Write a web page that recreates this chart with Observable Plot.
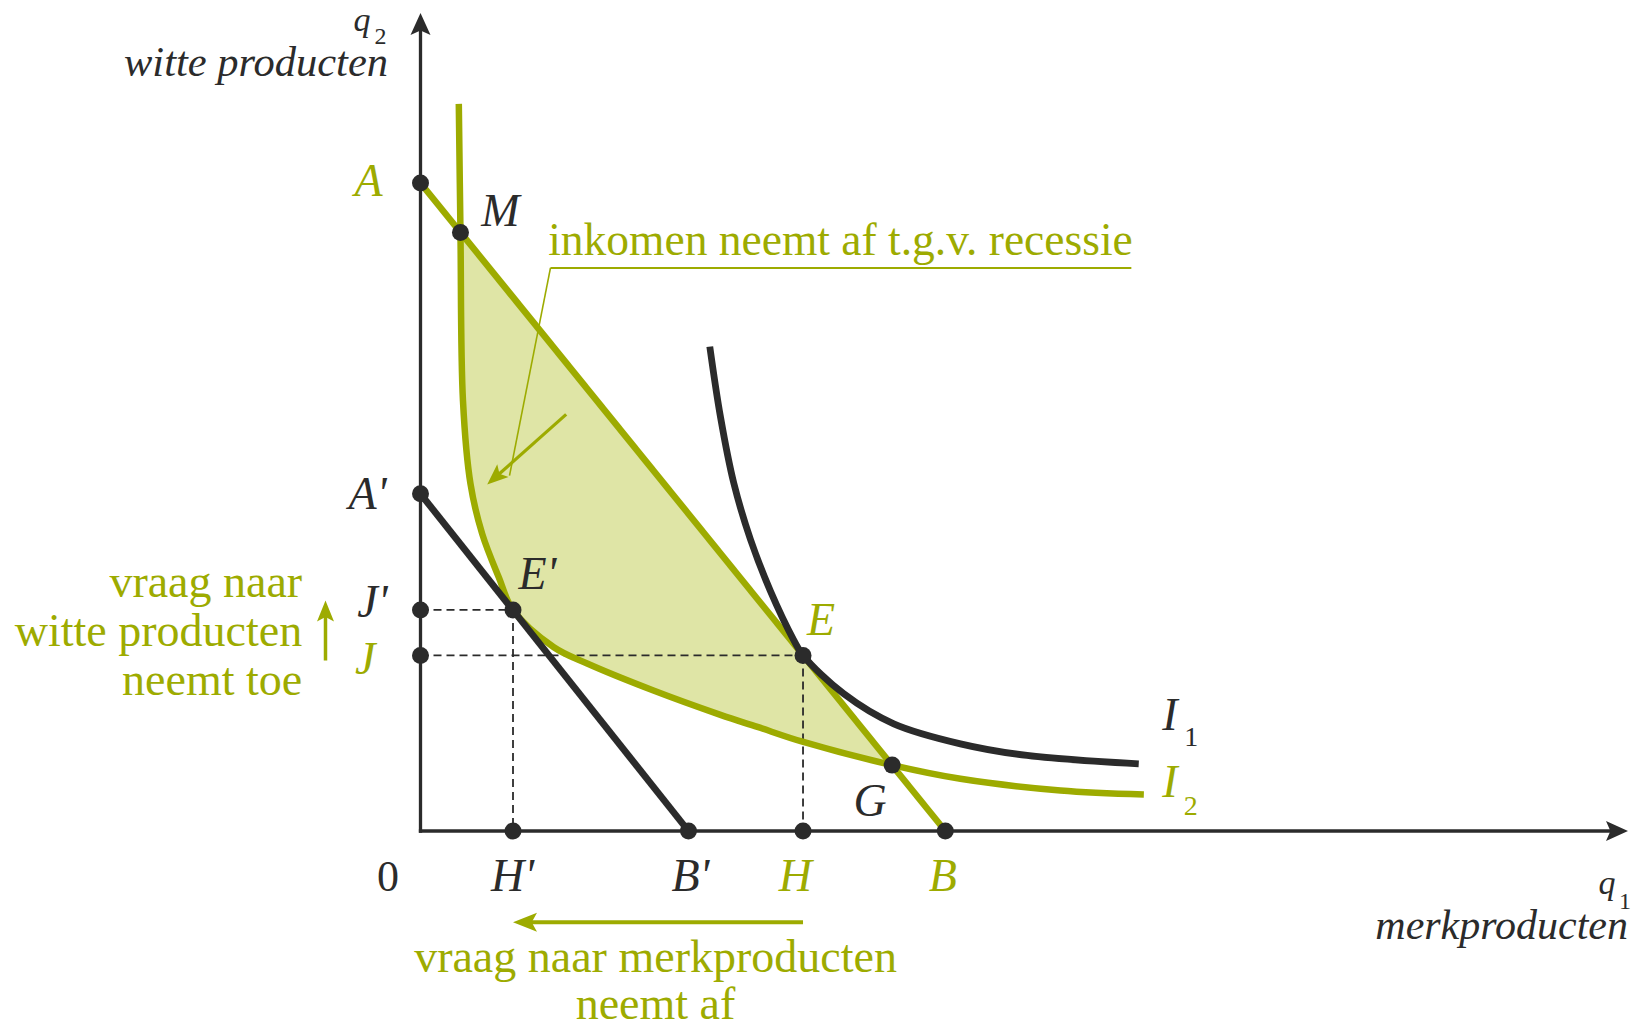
<!DOCTYPE html>
<html>
<head>
<meta charset="utf-8">
<script src="https://cdn.jsdelivr.net/npm/d3@7"></script>
<script src="https://cdn.jsdelivr.net/npm/@observablehq/plot@0.6"></script>
<style>
html, body { margin: 0; padding: 0; background: #fff; }
#chart svg { display: block; }
</style>
</head>
<body>
<div id="chart"></div>
<script>
// ---------- values (q1 = merkproducten, q2 = witte producten) ----------
const axisMax = { q1: 23.17, q2: 15.21 };

const points = [
  { id: "A",  q1: 0,     q2: 12.05 },
  { id: "M",  q1: 0.767, q2: 11.13 },
  { id: "A'", q1: 0,     q2: 6.27 },
  { id: "E'", q1: 1.775, q2: 4.11 },
  { id: "J'", q1: 0,     q2: 4.11 },
  { id: "J",  q1: 0,     q2: 3.265 },
  { id: "E",  q1: 7.34,  q2: 3.265 },
  { id: "G",  q1: 9.05,  q2: 1.225 },
  { id: "H'", q1: 1.775, q2: 0 },
  { id: "B'", q1: 5.142, q2: 0 },
  { id: "H",  q1: 7.34,  q2: 0 },
  { id: "B",  q1: 10.07, q2: 0 }
];

// indifference curve I1 (black)
const curveI1 = [
  { q1: 5.551, q2: 9.007 }, { q1: 5.756, q2: 7.70 }, { q1: 6.011, q2: 6.47 },
  { q1: 6.332, q2: 5.42 },  { q1: 6.715, q2: 4.46 }, { q1: 7.162, q2: 3.55 },
  { q1: 7.34,  q2: 3.265 }, { q1: 8.122, q2: 2.551 }, { q1: 9.081, q2: 1.993 },
  { q1: 10.361, q2: 1.621 }, { q1: 11.64, q2: 1.404 }, { q1: 13.782, q2: 1.249 }
];

// indifference curve I2 (green)
const curveI2 = [
  { q1: 0.735, q2: 13.52 }, { q1: 0.767, q2: 11.13 }, { q1: 0.815, q2: 8.0 },
  { q1: 0.959, q2: 6.455 }, { q1: 1.184, q2: 5.525 }, { q1: 1.502, q2: 4.718 },
  { q1: 1.775, q2: 4.11 },  { q1: 2.558, q2: 3.417 }, { q1: 3.198, q2: 3.114 },
  { q1: 4.47,  q2: 2.612 }, { q1: 5.756, q2: 2.16 },  { q1: 6.466, q2: 1.935 },
  { q1: 7.329, q2: 1.66 },  { q1: 9.05,  q2: 1.225 }, { q1: 10.36, q2: 0.97 },
  { q1: 12.28, q2: 0.753 }, { q1: 13.88, q2: 0.679 }
];

// annotation anchors (data units)
const calloutLine = { x1: 2.494, y1: 10.47, x2: 13.64, y2: 10.47 };
const leaderLine  = { x1: 2.494, y1: 10.47, x2: 1.708, y2: 6.609 };
const shiftArrow  = { x1: 2.795, y1: 7.746, x2: 1.28,  y2: 6.442 };
const upArrow     = { x1: -1.823, y1: 3.17, x2: -1.823, y2: 4.285 };
const leftArrowY  = -1.695;

const texts = {
  recession: "inkomen neemt af t.g.v. recessie",
  whiteUp: "vraag naar\nwitte producten\nneemt toe",
  brandDown: "vraag naar merkproducten\nneemt af",
  yTitle: "witte producten",
  xTitle: "merkproducten"
};

// ---------- derived ----------
const P = Object.fromEntries(points.map(d => [d.id, d]));
const budgetAB = [P["A"], P["B"]];
const budgetA2B2 = [P["A'"], P["B'"]];
const i2Start = curveI2.findIndex(d => d.q1 === P["M"].q1);
const i2End = curveI2.findIndex(d => d.q1 === P["G"].q1);
const shaded = curveI2.slice(i2Start, i2End + 1);
const dashes = [
  { x1: 0, y1: P["J'"].q2, x2: P["E'"].q1, y2: P["E'"].q2 },
  { x1: P["E'"].q1, y1: P["E'"].q2, x2: P["H'"].q1, y2: 0 },
  { x1: 0, y1: P["J"].q2, x2: P["E"].q1, y2: P["E"].q2 },
  { x1: P["E"].q1, y1: P["E"].q2, x2: P["H"].q1, y2: 0 }
];
const leftArrow = { x1: P["H"].q1, y1: leftArrowY, x2: P["H'"].q1, y2: leftArrowY };
const yAxis = { x1: 0, y1: 0, x2: 0, y2: axisMax.q2 };
const xAxis = { x1: 0, y1: 0, x2: axisMax.q1, y2: 0 };

// ---------- styling ----------
const GREEN = "#9dab00";
const FILL = "#dfe5a6";
const INK = "#2b2b2b";
const FONT = "'Liberation Serif', 'DejaVu Serif', serif";

const xDomain = [0, axisMax.q1], yDomain = [0, axisMax.q2];
const xRange = [420, 1627.5], yRange = [830.5, 12.5];
const kx = (xRange[1] - xRange[0]) / (xDomain[1] - xDomain[0]);
const ky = (yRange[0] - yRange[1]) / (yDomain[1] - yDomain[0]);
const headAngle = a => Math.atan2(-(a.y2 - a.y1) * ky, (a.x2 - a.x1) * kx) * 180 / Math.PI + 90;

function stealth(len, half, notch) {
  return { draw(ctx) { ctx.moveTo(0, 0); ctx.lineTo(half, len); ctx.lineTo(0, len * notch); ctx.lineTo(-half, len); ctx.closePath(); } };
}
const axisHead = stealth(22, 10, 0.8);
const greenHead = stealth(24, 9.5, 0.78);
const smallHead = stealth(21, 8.5, 0.78);

function head(a, sym, color) {
  return Plot.dot([a], { x: "x2", y: "y2", r: 5, symbol: sym, fill: color, stroke: "none", rotate: headAngle(a) });
}
function shaft(a, color, w, inset) {
  return Plot.arrow([a], { x1: "x1", y1: "y1", x2: "x2", y2: "y2", stroke: color, strokeWidth: w, headLength: 0, insetEnd: inset, strokeLinecap: "butt" });
}
const lab = (id, text, o) => Plot.text([P[id]], Object.assign({ x: "q1", y: "q2", text: () => text, fontFamily: FONT, fontStyle: "italic", fontSize: 46, fill: INK, lineAnchor: "middle", textAnchor: "middle" }, o));

const marks = [
  // shaded region between budget line AB and I2
  Plot.line(shaded, { x: "q1", y: "q2", curve: "catmull-rom", fill: FILL, stroke: "none" }),
  // dashed guides
  Plot.link(dashes, { x1: "x1", y1: "y1", x2: "x2", y2: "y2", stroke: INK, strokeWidth: 1.8, strokeDasharray: "8,5" }),
  // green lines
  Plot.line(budgetAB, { x: "q1", y: "q2", stroke: GREEN, strokeWidth: 6.5, strokeLinecap: "butt" }),
  Plot.line(curveI2, { x: "q1", y: "q2", curve: "catmull-rom", stroke: GREEN, strokeWidth: 6.5, strokeLinecap: "butt" }),
  // black lines
  Plot.line(budgetA2B2, { x: "q1", y: "q2", stroke: INK, strokeWidth: 6.8, strokeLinecap: "butt" }),
  Plot.line(curveI1, { x: "q1", y: "q2", curve: "catmull-rom", stroke: INK, strokeWidth: 6.8, strokeLinecap: "butt" }),
  // axes
  Plot.arrow([yAxis], { x1: "x1", y1: "y1", x2: "x2", y2: "y2", stroke: INK, strokeWidth: 3.3, headLength: 0, insetEnd: 10, strokeLinecap: "square" }),
  Plot.arrow([xAxis], { x1: "x1", y1: "y1", x2: "x2", y2: "y2", stroke: INK, strokeWidth: 3.3, headLength: 0, insetEnd: 10, strokeLinecap: "square" }),
  head(yAxis, axisHead, INK),
  head(xAxis, axisHead, INK),
  // points
  Plot.dot(points, { x: "q1", y: "q2", r: 8.5, fill: INK, stroke: "none" }),
  // callout
  Plot.link([calloutLine], { x1: "x1", y1: "y1", x2: "x2", y2: "y2", stroke: GREEN, strokeWidth: 2 }),
  Plot.link([leaderLine], { x1: "x1", y1: "y1", x2: "x2", y2: "y2", stroke: GREEN, strokeWidth: 1.6 }),
  shaft(shiftArrow, GREEN, 3.2, 14), head(shiftArrow, smallHead, GREEN),
  shaft(upArrow, GREEN, 3.5, 12), head(upArrow, smallHead, GREEN),
  shaft(leftArrow, GREEN, 4, 14), head(leftArrow, greenHead, GREEN),
  Plot.text([texts.recession], { x: calloutLine.x1, y: calloutLine.y1, dx: -2.3, dy: -13.3, textAnchor: "start", lineAnchor: "bottom", fontFamily: FONT, fontSize: 45.5, fill: GREEN }),
  Plot.text([texts.whiteUp], { x: upArrow.x1, y: upArrow.y1, dx: -23.3, dy: 34.3, textAnchor: "end", lineAnchor: "bottom", lineHeight: 1.06, fontFamily: FONT, fontSize: 46, fill: GREEN }),
  Plot.text([texts.brandDown], { x: (leftArrow.x1 + leftArrow.x2) / 2, y: leftArrowY, dx: -2.5, dy: 96.6, textAnchor: "middle", lineAnchor: "bottom", lineHeight: 1.015, fontFamily: FONT, fontSize: 46, fill: GREEN }),
  // point labels
  lab("A", "A", { dx: -38, dy: -2, textAnchor: "end", fill: GREEN }),
  lab("M", "M", { dx: 40, dy: -21 }),
  lab("A'", "A'", { dx: -34, dy: 0, textAnchor: "end" }),
  lab("E'", "E'", { dx: 5.5, dy: -35.6, textAnchor: "start" }),
  lab("J'", "J'", { dx: -33, dy: -8, textAnchor: "end" }),
  lab("J", "J", { dx: -45, dy: 4, textAnchor: "end", fill: GREEN }),
  lab("E", "E", { dx: 4, dy: -35, textAnchor: "start", fill: GREEN }),
  lab("G", "G", { dx: -22, dy: 36 }),
  lab("H'", "H'", { dx: -0.5, dy: 45.5 }),
  lab("B'", "B'", { dx: 2, dy: 45.5 }),
  lab("H", "H", { dx: -7.6, dy: 45.5, fill: GREEN }),
  lab("B", "B", { dx: -2.4, dy: 45.5, fill: GREEN }),
  Plot.text(["0"], { x: 0, y: 0, dx: -32.5, dy: 46, fontFamily: FONT, fontSize: 44, fill: INK, lineAnchor: "middle" }),
  // curve labels
  Plot.text([curveI1[curveI1.length - 1]], { x: "q1", y: "q2", text: () => "I", dx: 23.4, dy: -48.3, textAnchor: "start", lineAnchor: "middle", fontFamily: FONT, fontStyle: "italic", fontSize: 46, fill: INK }),
  Plot.text([curveI1[curveI1.length - 1]], { x: "q1", y: "q2", text: () => "1", dx: 45.5, dy: -26.3, textAnchor: "start", lineAnchor: "middle", fontFamily: FONT, fontSize: 28, fill: INK }),
  Plot.text([curveI2[curveI2.length - 1]], { x: "q1", y: "q2", text: () => "I", dx: 18.3, dy: -12, textAnchor: "start", lineAnchor: "middle", fontFamily: FONT, fontStyle: "italic", fontSize: 46, fill: GREEN }),
  Plot.text([curveI2[curveI2.length - 1]], { x: "q1", y: "q2", text: () => "2", dx: 40, dy: 12, textAnchor: "start", lineAnchor: "middle", fontFamily: FONT, fontSize: 28, fill: GREEN }),
  // axis titles
  Plot.text(["q"], { x: 0, y: axisMax.q2, dx: -58.5, dy: 17.5, textAnchor: "middle", lineAnchor: "bottom", fontFamily: FONT, fontStyle: "italic", fontSize: 34, fill: INK }),
  Plot.text(["2"], { x: 0, y: axisMax.q2, dx: -40, dy: 30.5, textAnchor: "middle", lineAnchor: "bottom", fontFamily: FONT, fontSize: 24, fill: INK }),
  Plot.text([texts.yTitle], { x: 0, y: axisMax.q2, dx: -32.5, dy: 62.5, textAnchor: "end", lineAnchor: "bottom", fontFamily: FONT, fontStyle: "italic", fontSize: 42.5, fill: INK }),
  Plot.text(["q"], { x: axisMax.q1, y: 0, dx: -21, dy: 62.5, textAnchor: "middle", lineAnchor: "bottom", fontFamily: FONT, fontStyle: "italic", fontSize: 34, fill: INK }),
  Plot.text(["1"], { x: axisMax.q1, y: 0, dx: -3, dy: 77.5, textAnchor: "middle", lineAnchor: "bottom", fontFamily: FONT, fontSize: 24, fill: INK }),
  Plot.text([texts.xTitle], { x: axisMax.q1, y: 0, dx: 0, dy: 107.5, textAnchor: "end", lineAnchor: "bottom", fontFamily: FONT, fontStyle: "italic", fontSize: 42, fill: INK })
];

const chart = Plot.plot({
  width: 1638,
  height: 1027,
  x: { domain: xDomain, range: xRange, axis: null },
  y: { domain: yDomain, range: yRange, axis: null },
  style: { background: "#fff", fontFamily: FONT, overflow: "visible" },
  marks
});
document.getElementById("chart").appendChild(chart);
</script>
</body>
</html>
